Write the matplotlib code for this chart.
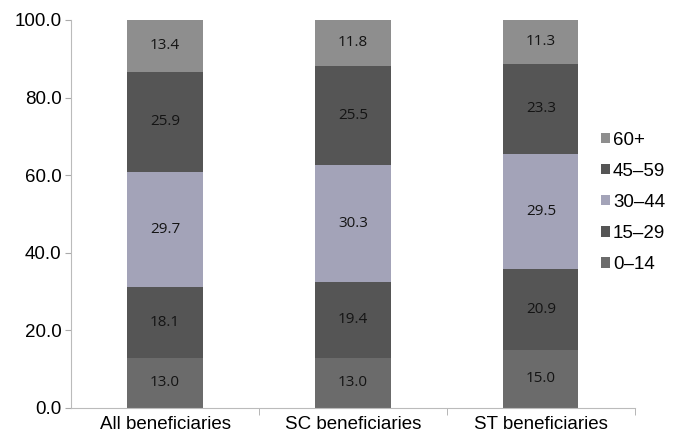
import matplotlib
matplotlib.use("Agg")
import matplotlib.pyplot as plt
import numpy as np

categories = ["All beneficiaries", "SC beneficiaries", "ST beneficiaries"]
groups = ["0\u201314", "15\u201329", "30\u201344", "45\u201359", "60+"]
v_0_14 = [13.0, 13.0, 15.0]
v_15_29 = [18.1, 19.4, 20.9]
v_30_44 = [29.7, 30.3, 29.5]
v_45_59 = [25.9, 25.5, 23.3]
v_60p = [13.4, 11.8, 11.3]
series = [v_0_14, v_15_29, v_30_44, v_45_59, v_60p]
colors = ["#6b6b6b", "#555555", "#a3a3b8", "#555555", "#8e8e8e"]

plt.rcParams['font.family'] = ['Liberation Sans', 'DejaVu Sans']
fig = plt.figure(figsize=(6.84, 4.42), dpi=100)
ax = fig.add_axes([0.104, 0.077, 0.824, 0.878])

x = np.arange(len(categories))
bottom = np.zeros(len(categories))
handles = []
for vals, col, name in zip(series, colors, groups):
    b = ax.bar(x, vals, width=0.4, bottom=bottom, color=col, label=name, edgecolor='none')
    handles.append(b)
    for xi, v, bo in zip(x, vals, bottom):
        ax.text(xi, bo + v / 2, f"{v:.1f}", ha='center', va='center', fontsize=11,
                color='#141414', family=['Open Sans', 'DejaVu Sans'])
    bottom += np.array(vals)

ax.set_xlim(-0.5, 2.5)
ax.set_ylim(0, 100)
ax.set_yticks(np.arange(0, 101, 20))
ax.set_yticklabels([f"{t:.1f}" for t in np.arange(0, 101, 20)], fontsize=13.5)
ax.set_xticks(x)
ax.set_xticklabels(categories, fontsize=13.5)
ax.set_xticks([0.5, 1.5, 2.5], minor=True)
ax.tick_params(axis='x', which='major', length=0, pad=6)
ax.tick_params(axis='x', which='minor', length=5, direction='out', color='#aaaaaa')
ax.tick_params(axis='y', length=4, color='#aaaaaa', direction='out', pad=3)
for s in ['top', 'right']:
    ax.spines[s].set_visible(False)
for s in ['left', 'bottom']:
    ax.spines[s].set_color('#bbbbbb')

leg = ax.legend(handles[::-1], groups[::-1], loc='center left', bbox_to_anchor=(0.94, 0.53),
                frameon=False, fontsize=13.5, handlelength=0.5, handleheight=0.5,
                handletextpad=0.15, labelspacing=0.75, borderpad=0, borderaxespad=0)

fig.savefig("out.png", dpi=100)
